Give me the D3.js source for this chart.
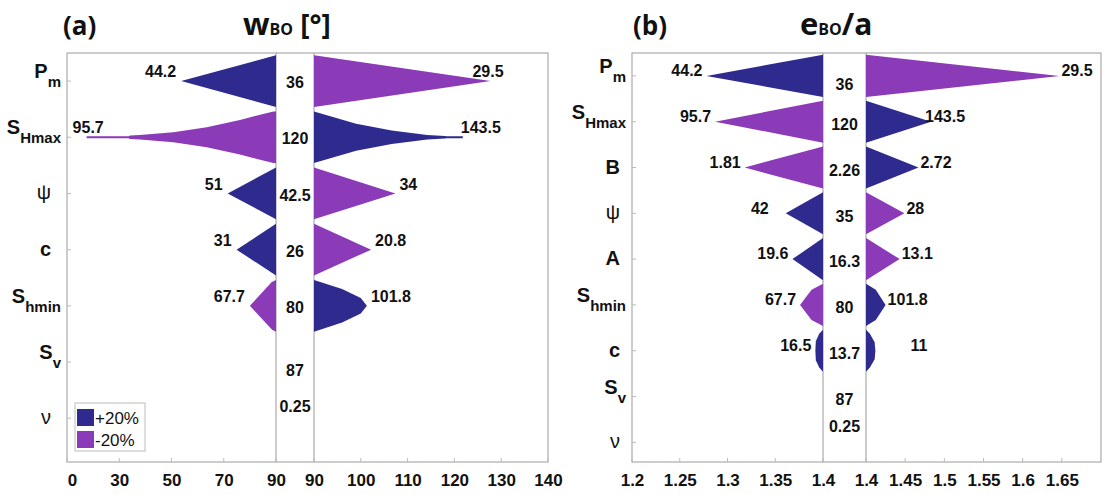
<!DOCTYPE html>
<html><head><meta charset="utf-8">
<script src="https://cdn.jsdelivr.net/npm/d3@7"></script>
<style>body{margin:0;background:#fff}</style>
</head><body>
<svg id="c" width="1105" height="495"></svg>
<script>
// ================= DATA =================
// Panel (a): w_BO [°]
const catMainA   = ["P","S","ψ","c","S","S","ν"];
const catSubA    = ["m","Hmax","","","hmin","v",""];
const baseLabelA = ["36","120","42.5","26","80","87","0.25"];
const leftLabelA  = ["44.2","95.7","51","31","67.7"];
const rightLabelA = ["29.5","143.5","34","20.8","101.8"];
const leftSignA   = ["+","-","+","+","-"];
const rightSignA  = ["-","+","-","-","+"];
// profiles: [output value, relative half-width], from baseline to tip
const leftProfileA = [
  [[90,1],[53.7,0]],
  [[90,1],[89,1],[76.2,0.67],[63.5,0.39],[50.7,0.19],[37.9,0.09],[34.1,0.065],[33.6,0.04],[17.5,0.04],[17.5,0]],
  [[90,1],[71.5,0]],
  [[90,1],[74.9,0]],
  [[90,1],[88.4,0.92],[80,0]]
];
const rightProfileA = [
  [[90,1],[127.7,0]],
  [[90,1],[99,0.52],[106.6,0.26],[114.2,0.09],[118,0.05],[118.3,0.04],[121.8,0.04],[121.8,0]],
  [[90,1],[107.4,0]],
  [[90,1],[102.2,0]],
  [[90,1],[96,0.65],[100,0.3],[101.3,0]]
];
const leftTicksA = [10,30,50,70,90];
const leftTickLabelsA = ["0","30","50","70","90"];
const rightTicksA = [90,100,110,120,130,140];
const rightTickLabelsA = ["90","100","110","120","130","140"];

// Panel (b): e_BO/a
const catMainB   = ["P","S","B","ψ","A","S","c","S","ν"];
const catSubB    = ["m","Hmax","","","","hmin","","v",""];
const baseLabelB = ["36","120","2.26","35","16.3","80","13.7","87","0.25"];
const leftLabelB  = ["44.2","95.7","1.81","42","19.6","67.7","16.5"];
const rightLabelB = ["29.5","143.5","2.72","28","13.1","101.8","11"];
const leftSignB   = ["+","-","-","+","+","-","+"];
const rightSignB  = ["-","+","+","-","-","+","+"];
const leftProfileB = [
  [[1.4,1],[1.278,0]],
  [[1.4,1],[1.287,0]],
  [[1.4,1],[1.318,0]],
  [[1.4,1],[1.361,0]],
  [[1.4,1],[1.368,0]],
  [[1.4,1],[1.388,0.72],[1.376,0]],
  [[1.4,1],[1.396,0.8],[1.3925,0.45],[1.392,0]]
];
const rightProfileB = [
  [[1.4,1],[1.647,0]],
  [[1.4,1],[1.483,0]],
  [[1.4,1],[1.467,0]],
  [[1.4,1],[1.449,0]],
  [[1.4,1],[1.443,0]],
  [[1.4,1],[1.4125,0.72],[1.425,0]],
  [[1.4,1],[1.405,0.8],[1.411,0.4],[1.412,0]]
];
const leftTicksB = [1.2,1.25,1.3,1.35,1.4];
const leftTickLabelsB = ["1.2","1.25","1.3","1.35","1.4"];
const rightTicksB = [1.4,1.45,1.5,1.55,1.6,1.65];
const rightTickLabelsB = ["1.4","1.45","1.5","1.55","1.6","1.65"];

const legendLabels = ["+20%","-20%"];

// ================= STYLE / LAYOUT =================
const BLUE = "#2f2a8d", PURPLE = "#8b3ab8";
const colorOf = s => s === "+" ? BLUE : PURPLE;
const FONT = "'Liberation Sans', Arial, Helvetica, sans-serif";
const TFONT = "'Open Sans', 'Liberation Sans', sans-serif";
const svg = d3.select("#c");

function drawPanel(p) {
  const g = svg.append("g");
  const n = p.catMain.length;
  const xL = d3.scaleLinear().domain(p.leftDomain).range([p.x0, p.g0]);
  const xR = d3.scaleLinear().domain(p.rightDomain).range([p.g1, p.x1]);
  const y = d3.scaleLinear().domain(p.yDomain).range([p.top, p.bottom]);
  const step = y(1) - y(0);
  const h = 0.46 * step;

  // frame
  g.append("rect").attr("x", p.x0).attr("y", p.top)
    .attr("width", p.x1 - p.x0).attr("height", p.bottom - p.top)
    .attr("fill", "none").attr("stroke", "#9a9a9a").attr("stroke-width", 1);
  [p.g0, p.g1].forEach(xx => g.append("line")
    .attr("x1", xx).attr("x2", xx).attr("y1", p.top).attr("y2", p.bottom)
    .attr("stroke", "#9a9a9a").attr("stroke-width", 1));

  // axes (bottom)
  const axL = d3.axisBottom(xL).tickValues(p.leftTicks).tickSize(0)
    .tickFormat((d, i) => p.leftTickLabels[i]);
  const axR = d3.axisBottom(xR).tickValues(p.rightTicks).tickSize(0)
    .tickFormat((d, i) => p.rightTickLabels[i]);
  [axL, axR].forEach(ax => {
    const a = g.append("g").attr("transform", `translate(0,${p.bottom})`).call(ax);
    a.select(".domain").remove();
    a.selectAll("text").attr("dy", null).attr("y", 24)
      .style("font-family", FONT).style("font-size", "17px")
      .style("font-weight", "bold").attr("fill", "#111");
  });
  if (p.firstLabelDx) g.selectAll("g.tick").filter((d) => d === p.leftTicks[0])
      .select("text").attr("dx", p.firstLabelDx);
  // inward tick marks
  p.leftTicks.forEach(v => g.append("line").attr("x1", xL(v)).attr("x2", xL(v))
      .attr("y1", p.bottom).attr("y2", p.bottom - 4).attr("stroke", "#bbb"));
  p.rightTicks.forEach(v => g.append("line").attr("x1", xR(v)).attr("x2", xR(v))
      .attr("y1", p.bottom).attr("y2", p.bottom - 4).attr("stroke", "#bbb"));

  // category labels + ticks
  d3.range(n).forEach(i => {
    const yy = y(i);
    g.append("line").attr("x1", p.x0).attr("x2", p.x0 + 4)
      .attr("y1", yy).attr("y2", yy).attr("stroke", "#bbb");
    const hasSub = p.catSub[i] !== "";
    const greek = /[ψν]/.test(p.catMain[i]);
    const t = g.append("text")
      .attr("x", p.x0 - (hasSub ? 6 : p.plainOff))
      .attr("y", yy + (hasSub ? -3 : 6))
      .attr("text-anchor", "end")
      .style("font-family", FONT).attr("fill", "#111");
    t.append("tspan").text(p.catMain[i])
      .style("font-size", "20px")
      .style("font-weight", greek ? "normal" : "bold");
    if (hasSub) t.append("tspan").text(p.catSub[i]).attr("dy", 9)
      .style("font-size", "15px").style("font-weight", "bold");
  });

  // shapes
  const shape = (profile, x, yc) => {
    const topPts = profile.map(q => [x(q[0]), yc - q[1] * h]);
    const botPts = profile.slice().reverse().map(q => [x(q[0]), yc + q[1] * h]);
    return d3.line()(topPts.concat(botPts)) + "Z";
  };
  p.leftProfile.forEach((prof, i) => {
    g.append("path").attr("d", shape(prof, xL, y(i))).attr("fill", colorOf(p.leftSign[i]));
  });
  p.rightProfile.forEach((prof, i) => {
    g.append("path").attr("d", shape(prof, xR, y(i))).attr("fill", colorOf(p.rightSign[i]));
  });

  // tip labels
  const lab = (x, yy, txt, anchor) => g.append("text").attr("x", x).attr("y", yy)
    .attr("text-anchor", anchor).attr("dominant-baseline", "middle")
    .style("font-family", FONT).style("font-size", "16px").style("font-weight", "bold")
    .attr("fill", "#111").text(txt);
  p.leftLabel.forEach((txt, i) => {
    const prof = p.leftProfile[i];
    const tip = xL(prof[prof.length - 1][0]);
    const nd = (p.leftNudge && p.leftNudge[i]) || {};
    lab(tip + (nd.dx !== undefined ? nd.dx : -p.leftGap), y(i) + p.labDy, txt, nd.anchor || "end");
  });
  p.rightLabel.forEach((txt, i) => {
    const prof = p.rightProfile[i];
    const tip = xR(prof[prof.length - 1][0]);
    const nd = (p.rightNudge && p.rightNudge[i]) || {};
    lab(tip + (nd.dx !== undefined ? nd.dx : p.rightGap), y(i) + p.labDy, txt, "start");
  });
  // centre labels
  p.baseLabel.forEach((txt, i) => {
    const dy = (p.baseNudge && p.baseNudge[i] !== undefined) ? p.baseNudge[i] : p.baseDy;
    lab((p.g0 + p.g1) / 2, y(i) + dy, txt, "middle");
  });
  return g;
}

drawPanel({
  catMain: catMainA, catSub: catSubA, baseLabel: baseLabelA,
  leftLabel: leftLabelA, rightLabel: rightLabelA,
  leftSign: leftSignA, rightSign: rightSignA,
  leftProfile: leftProfileA, rightProfile: rightProfileA,
  leftTicks: leftTicksA, leftTickLabels: leftTickLabelsA,
  rightTicks: rightTicksA, rightTickLabels: rightTickLabelsA,
  leftDomain: [10, 90], rightDomain: [90, 140],
  x0: 67, g0: 276, g1: 314, x1: 548, top: 53, bottom: 462,
  yDomain: [-0.5, 6.78], plainOff: 16, labDy: -8, baseDy: 3,
  leftGap: 5, rightGap: 4, firstLabelDx: 5,
  leftNudge: {1: {dx: -14, anchor: "start"}},
  rightNudge: {0: {dx: -18}, 1: {dx: -2}},
  baseNudge: {5: 10, 6: -10}
});

drawPanel({
  catMain: catMainB, catSub: catSubB, baseLabel: baseLabelB,
  leftLabel: leftLabelB, rightLabel: rightLabelB,
  leftSign: leftSignB, rightSign: rightSignB,
  leftProfile: leftProfileB, rightProfile: rightProfileB,
  leftTicks: leftTicksB, leftTickLabels: leftTickLabelsB,
  rightTicks: rightTicksB, rightTickLabels: rightTickLabelsB,
  leftDomain: [1.2, 1.4], rightDomain: [1.4, 1.7],
  x0: 632, g0: 823, g1: 866, x1: 1101, top: 53, bottom: 462,
  yDomain: [-0.5, 8.43], plainOff: 12, labDy: -4, baseDy: 4,
  leftGap: 4, rightGap: 2, firstLabelDx: 0,
  leftNudge: {3: {dx: -17}},
  rightNudge: {1: {dx: -6}, 6: {dx: 35}},
  baseNudge: {0: 10, 8: -15}
});

// titles
const title = (x, anchor, parts) => {
  const t = svg.append("text").attr("x", x).attr("y", 35).attr("text-anchor", anchor)
    .style("font-family", TFONT).style("font-weight", "bold").attr("fill", "#111");
  parts.forEach(pt => t.append("tspan").text(pt[0]).style("font-size", pt[1] + "px"));
};
title(63, "start", [["(a)", 26]]);
title(243, "start", [["w", 31], ["BO", 16], ["\u00a0[°]", 28]]);
title(633, "start", [["(b)", 26]]);
title(800, "start", [["e", 31], ["BO", 16], ["/a", 30]]);

// legend (panel a)
const lg = svg.append("g");
lg.append("rect").attr("x", 75).attr("y", 403).attr("width", 70).attr("height", 48)
  .attr("fill", "#fff").attr("stroke", "#bbb");
legendLabels.forEach((lbl, i) => {
  lg.append("rect").attr("x", 77).attr("y", 409 + i * 22).attr("width", 17).attr("height", 17)
    .attr("fill", i === 0 ? BLUE : PURPLE);
  lg.append("text").attr("x", 95).attr("y", 424 + i * 22)
    .style("font-family", FONT).style("font-size", "17px").attr("fill", "#111").text(lbl);
});
</script>
</body></html>
